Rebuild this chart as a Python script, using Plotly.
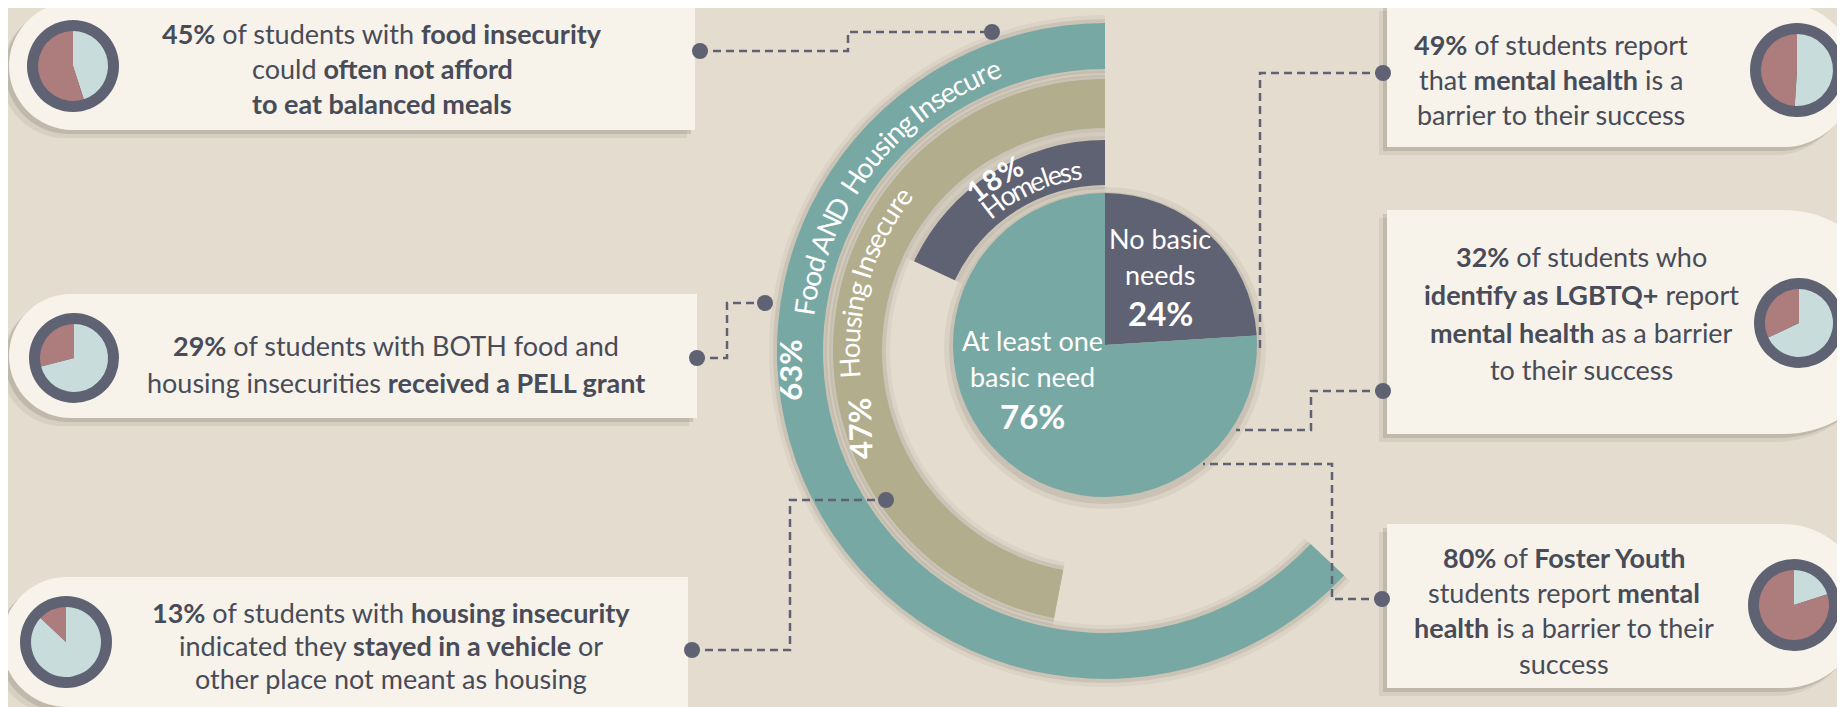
import math
import plotly.graph_objects as go

# ---------------- data ----------------
ring_labels = ["Food AND  Housing Insecure", "Housing Insecure", "Homeless"]
ring_pct = [63, 47, 18]
pie_labels = ["No basic needs", "At least one basic need"]
pie_label_lines = [["No basic", "needs"], ["At least one", "basic need"]]
pie_pct = [24, 76]
card_pct = [45, 29, 13, 49, 32, 80]
icon_rose_pct = [55, 29, 13, 49, 32, 80]   # rose share drawn in each card icon
card_text = [
    ["<b>45%</b> of students with <b>food insecurity</b>",
     "could <b>often not afford</b>",
     "<b>to eat balanced meals</b>"],
    ["<b>29%</b> of students with BOTH food and",
     "housing insecurities <b>received a PELL grant</b>"],
    ["<b>13%</b> of students with <b>housing insecurity</b>",
     "indicated they <b>stayed in a vehicle</b> or",
     "other place not meant as housing"],
    ["<b>49%</b> of students report",
     "that <b>mental health</b> is a",
     "barrier to their success"],
    ["<b>32%</b> of students who",
     "<b>identify as LGBTQ+</b> report",
     "<b>mental health</b> as a barrier",
     "to their success"],
    ["<b>80%</b> of <b>Foster Youth</b>",
     "students report <b>mental</b>",
     "<b>health</b> is a barrier to their",
     "success"],
]

# ---------------- style / layout ----------------
W, H = 1845, 707
OFF = 8                      # page margin: coordinates below are in screen pixels
BG = "#e3dccf"
TEAL = "#78a8a3"
TAN = "#b2ad8c"
SLATE = "#5f6273"
CARD = "#f7f3ea"
TXT = "#484b58"
ROSE = "#ad7c7c"
LIGHT = "#c9dcdc"
FONT = "Lato"

CX, CY = 1105, 351          # ring centre (screen px)
RMAX = 340
RING_R = [(282, 328), (223, 272), (166, 211)]
RING_COL = [TEAL, TAN, SLATE]
PIE_C = (1105, 345)
PIE_R = 152

# curved label placement: (start angle, end angle, radius, size, bold)
RING_TXT = [(173, 110.5, 304, 28, False), (186, 141, 256, 27.5, False), (130.5, 97.5, 184, 27, False)]
HOMELESS_PCT_POS = (131, 114, 206, 29, True)
RING_PCT_POS = [(183.5, 315, -90), (197.5, 257, -92)]

CARDS = [  # side, cx, cy, r, straight-edge x
    ("L", 73, 66, 64, 695),
    ("L", 71, 356, 62, 697),
    ("L", 67, 642, 65, 688),
    ("R", 1783, 75, 72, 1387),
    ("R", 1783, 322, 112, 1387),
    ("R", 1783, 606, 82, 1387),
]
ICONS = [(73, 66, 46), (74, 358, 45), (66, 642, 46),
         (1797, 70, 47), (1799, 323, 45), (1794, 605, 46)]
TEXT_POS = [
    (382, [33, 68, 103]),
    (396, [345, 382]),
    (391, [612, 645, 678]),
    (1551, [44, 79, 114]),
    (1581, [256, 294, 332, 369]),
    (1564, [557, 592, 627, 663]),
]
CONNECTORS = [
    ([(700, 51), (848, 51), (848, 32), (992, 32)], True),
    ([(697, 358), (727, 358), (727, 303), (765, 303)], True),
    ([(692, 650), (790, 650), (790, 500), (886, 500)], True),
    ([(1383, 73), (1260, 73), (1260, 352)], False),
    ([(1383, 391), (1311, 391), (1311, 430), (1236, 430)], False),
    ([(1382, 599), (1332, 599), (1332, 464), (1203, 464)], False),
]

CHAR_W = {' ': 0.193, 'A': 0.68, 'D': 0.72, 'F': 0.54, 'H': 0.74, 'I': 0.29,
          'N': 0.74, 'c': 0.47, 'd': 0.56, 'e': 0.51, 'g': 0.50, 'i': 0.24,
          'l': 0.24, 'm': 0.83, 'n': 0.56, 'o': 0.56, 'r': 0.37, 's': 0.42,
          'u': 0.56, '1': 0.58, '8': 0.58, '%': 0.82}


def px2paper_x(x):
    return (x - OFF) / W


def px2paper_y(y):
    return (H - (y - OFF)) / H


fig = go.Figure()
fig.add_trace(go.Scatter(x=[OFF, W], y=[OFF, H], mode="markers",
                         marker=dict(opacity=0), hoverinfo="skip", showlegend=False))

# ---- rings (barpolar) ----
for i, p in enumerate(ring_pct):
    span = p * 3.6
    b0, b1 = RING_R[i]
    for spread, alpha in ((8, 0.05), (4, 0.10)):
        fig.add_trace(go.Barpolar(r=[b1 - b0 + 2 * spread], base=[b0 - spread],
                                  theta=[span / 2], width=[span],
                                  marker=dict(color=f"rgba(70,60,40,{alpha})", line=dict(width=0)),
                                  hoverinfo="skip", showlegend=False))
    fig.add_trace(go.Barpolar(r=[b1 - b0], base=[b0], theta=[span / 2], width=[span],
                              marker=dict(color=RING_COL[i], line=dict(width=0)),
                              name=ring_labels[i], hoverinfo="skip", showlegend=False))

# ---- central pie ----
px0, py0 = PIE_C
fig.add_trace(go.Pie(values=pie_pct, labels=pie_labels, sort=False, direction="clockwise",
                     rotation=0, textinfo="none", hoverinfo="skip", showlegend=False,
                     marker=dict(colors=[SLATE, TEAL], line=dict(width=0)),
                     domain=dict(x=[px2paper_x(px0 - PIE_R), px2paper_x(px0 + PIE_R)],
                                 y=[px2paper_y(py0 + PIE_R), px2paper_y(py0 - PIE_R)])))

# ---- card icons (pies) ----
for (ix, iy, r), p in zip(ICONS, icon_rose_pct):
    ri = r - 11
    fig.add_trace(go.Pie(values=[100 - p, p], sort=False, direction="clockwise", rotation=0,
                         textinfo="none", hoverinfo="skip", showlegend=False,
                         marker=dict(colors=[LIGHT, ROSE], line=dict(width=0)),
                         domain=dict(x=[px2paper_x(ix - ri), px2paper_x(ix + ri)],
                                     y=[px2paper_y(iy + ri), px2paper_y(iy - ri)])))

shapes = []


def card_path(side, cx, cy, r, xe, dx=0, dy=0):
    k = 0.5523 * r
    y0, y1 = cy - r + dy, cy + r + dy
    cy = cy + dy
    cx = cx + dx
    xe = xe + dx
    if side == "L":
        return (f"M {xe},{y0} L {cx},{y0} C {cx-k},{y0} {cx-r},{cy-k} {cx-r},{cy} "
                f"C {cx-r},{cy+k} {cx-k},{y1} {cx},{y1} L {xe},{y1} Z")
    return (f"M {xe},{y0} L {cx},{y0} C {cx+k},{y0} {cx+r},{cy-k} {cx+r},{cy} "
            f"C {cx+r},{cy+k} {cx+k},{y1} {cx},{y1} L {xe},{y1} Z")


for side, cx, cy, r, xe in CARDS:
    for d, a in ((8, 0.07), (4, 0.14)):
        shapes.append(dict(type="path", xref="x", yref="y", layer="below",
                           path=card_path(side, cx, cy, r, xe, -d, d),
                           fillcolor=f"rgba(60,50,35,{a})", line=dict(width=0)))
    shapes.append(dict(type="path", xref="x", yref="y", layer="below",
                       path=card_path(side, cx, cy, r, xe),
                       fillcolor=CARD, line=dict(width=0)))

for ix, iy, r in ICONS:
    shapes.append(dict(type="circle", xref="x", yref="y", layer="below",
                       x0=ix - r, x1=ix + r, y0=iy - r, y1=iy + r,
                       fillcolor=SLATE, line=dict(width=0)))

for d, a in ((9, 0.06), (4, 0.10)):
    shapes.append(dict(type="circle", xref="x", yref="y", layer="below",
                       x0=px0 - PIE_R - d, x1=px0 + PIE_R + d,
                       y0=py0 - PIE_R - d + 3, y1=py0 + PIE_R + d + 3,
                       fillcolor=f"rgba(60,50,35,{a})", line=dict(width=0)))

for pts, both in CONNECTORS:
    path = "M " + " L ".join(f"{x},{y}" for x, y in pts)
    shapes.append(dict(type="path", xref="x", yref="y", layer="above", path=path,
                       line=dict(color=SLATE, width=2.5, dash="8px,5px")))
    ends = [pts[0], pts[-1]] if both else [pts[0]]
    for x, y in ends:
        shapes.append(dict(type="circle", xref="x", yref="y", layer="above",
                           x0=x - 8, x1=x + 8, y0=y - 8, y1=y + 8,
                           fillcolor=SLATE, line=dict(width=0)))

annotations = []


def ann(x, y, text, size, color, angle=0):
    annotations.append(dict(x=x, y=y, xref="x", yref="y", text=text, showarrow=False,
                            xanchor="center", yanchor="middle", textangle=angle,
                            font=dict(family=FONT, size=size, color=color)))


def arc_text(text, a_start, a_end, radius, size, bold=False):
    ws = [CHAR_W.get(c, 0.5) for c in text]
    total = sum(ws)
    cum = 0.0
    for c, w in zip(text, ws):
        a = a_start + (a_end - a_start) * (cum + w / 2) / total
        cum += w
        if c == " ":
            continue
        x = CX + radius * math.cos(math.radians(a))
        y = CY - radius * math.sin(math.radians(a))
        ann(x, y, f"<b>{c}</b>" if bold else c, size, "white", 90 - a)


for lab, (a0, a1, rad, size, bold) in zip(ring_labels, RING_TXT):
    arc_text(lab, a0, a1, rad, size, bold)
arc_text(f"{ring_pct[2]}%", *HOMELESS_PCT_POS)
for p, (a, rad, ang) in zip(ring_pct[:2], RING_PCT_POS):
    x = CX + rad * math.cos(math.radians(a))
    y = CY - rad * math.sin(math.radians(a))
    ann(x, y, f"<b>{p}%</b>", 31, "white", ang)

ann(1160, 238, pie_label_lines[0][0], 27, "white")
ann(1160, 274, pie_label_lines[0][1], 27, "white")
ann(1160, 313, f"<b>{pie_pct[0]}%</b>", 33, "white")
ann(1032, 340, pie_label_lines[1][0], 27, "white")
ann(1032, 376, pie_label_lines[1][1], 27, "white")
ann(1032, 416, f"<b>{pie_pct[1]}%</b>", 33, "white")

for lines, (tx, ys) in zip(card_text, TEXT_POS):
    for t, y in zip(lines, ys):
        ann(tx, y, t, 27, TXT)

fig.update_layout(
    width=W, height=H, margin=dict(l=0, r=0, t=0, b=0),
    paper_bgcolor=BG, plot_bgcolor="rgba(0,0,0,0)", showlegend=False,
    xaxis=dict(range=[OFF, W + OFF], visible=False, fixedrange=True, domain=[0, 1]),
    yaxis=dict(range=[H + OFF, OFF], visible=False, fixedrange=True, domain=[0, 1]),
    polar=dict(domain=dict(x=[px2paper_x(CX - RMAX), px2paper_x(CX + RMAX)],
                           y=[px2paper_y(CY + RMAX), px2paper_y(CY - RMAX)]),
               bgcolor="rgba(0,0,0,0)", barmode="overlay", hole=0,
               radialaxis=dict(visible=False, range=[0, RMAX], showgrid=False),
               angularaxis=dict(visible=False, rotation=90, direction="counterclockwise",
                                showgrid=False)),
    shapes=shapes, annotations=annotations,
)

fig.write_html("out.html")
